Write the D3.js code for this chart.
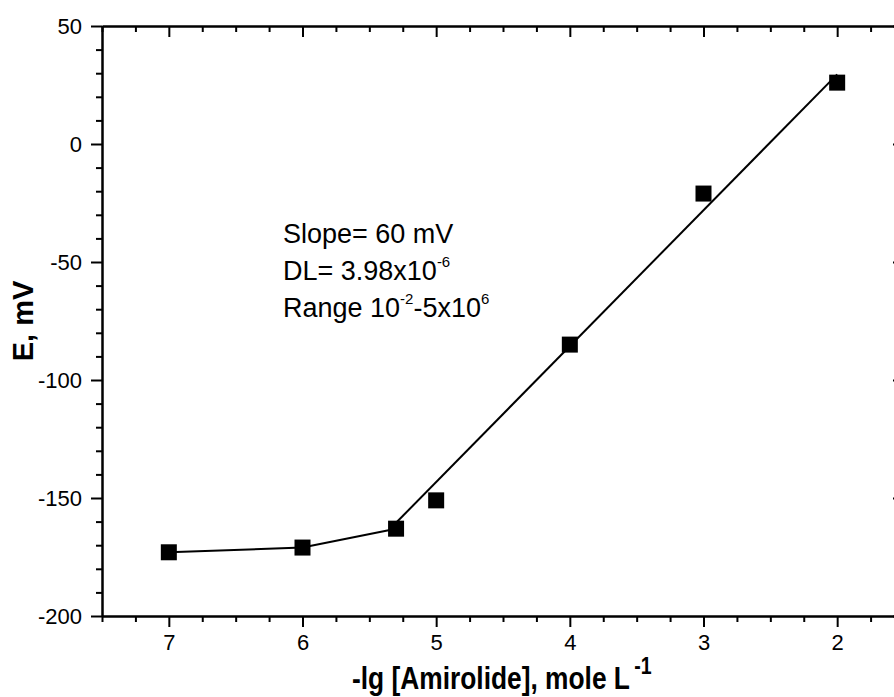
<!DOCTYPE html>
<html>
<head>
<meta charset="utf-8">
<script src="https://cdn.jsdelivr.net/npm/d3@7"></script>
<style>
  body { margin: 0; background: #fff; }
  svg { display: block; font-family: "Liberation Sans", Arial, sans-serif; }
  .axis path, .axis line { stroke: #000; stroke-width: 2; }
  .axis text { fill: #000; font-size: 22px; font-family: "Liberation Sans", Arial, sans-serif; }
</style>
</head>
<body>
<svg id="chart"></svg>
<script>
// measured points
const xVals = [7, 6, 5.3, 5, 4, 3, 2];
const yVals = [-173, -171, -163, -151, -85, -21, 26];
// the low-concentration points are joined point to point
const lowX = [7, 6, 5.3];
const lowY = [-173, -171, -163];
// linear fit over the working range
const fitX = [5.3, 2];
const fitY = [-160.5, 29.5];

const xTicks = [7, 6, 5, 4, 3, 2];
const yTicks = [50, 0, -50, -100, -150, -200];

const width = 894, height = 697;
const margin = { top: 26, right: -10, bottom: 81, left: 102 };

const svg = d3.select('#chart').attr('width', width).attr('height', height);

const x = d3.scaleLinear().domain([7.5, 1.5]).range([margin.left, width - margin.right]);
const y = d3.scaleLinear().domain([-200, 50]).range([height - margin.bottom, margin.top]);

const xMinor = d3.range(1.5, 7.51, 0.25).filter(v => !xTicks.includes(v));
const yMinor = d3.range(-200, 51, 10).filter(v => !yTicks.includes(v));

const bottom = height - margin.bottom;
const right = width - margin.right;

// plain hyphen for negatives, like the original
const fmt = d => String(d);

// bottom axis, ticks outward
svg.append('g').attr('class', 'axis')
    .attr('transform', `translate(0,${bottom})`)
    .call(d3.axisBottom(x).tickValues(xTicks).tickSize(11).tickSizeOuter(0).tickPadding(7).tickFormat(fmt));
svg.append('g').attr('class', 'axis')
    .attr('transform', `translate(0,${bottom})`)
    .call(d3.axisBottom(x).tickValues(xMinor).tickSize(6).tickSizeOuter(0).tickFormat(''));

// top axis, ticks inward
svg.append('g').attr('class', 'axis')
    .attr('transform', `translate(0,${margin.top})`)
    .call(d3.axisTop(x).tickValues(xTicks).tickSize(-11).tickSizeOuter(0).tickFormat(''));
svg.append('g').attr('class', 'axis')
    .attr('transform', `translate(0,${margin.top})`)
    .call(d3.axisTop(x).tickValues(xMinor).tickSize(-6).tickSizeOuter(0).tickFormat(''));

// left axis, ticks outward
svg.append('g').attr('class', 'axis')
    .attr('transform', `translate(${margin.left},0)`)
    .call(d3.axisLeft(y).tickValues(yTicks).tickSize(11).tickSizeOuter(0).tickPadding(9).tickFormat(fmt));
svg.append('g').attr('class', 'axis')
    .attr('transform', `translate(${margin.left},0)`)
    .call(d3.axisLeft(y).tickValues(yMinor).tickSize(6).tickSizeOuter(0).tickFormat(''));

// right axis, ticks inward
svg.append('g').attr('class', 'axis')
    .attr('transform', `translate(${right},0)`)
    .call(d3.axisRight(y).tickValues(yTicks).tickSize(-11).tickSizeOuter(0).tickFormat(''));
svg.append('g').attr('class', 'axis')
    .attr('transform', `translate(${right},0)`)
    .call(d3.axisRight(y).tickValues(yMinor).tickSize(-6).tickSizeOuter(0).tickFormat(''));

// lines
const line = d3.line().x(d => x(d[0])).y(d => y(d[1]));
svg.append('path')
    .datum(d3.zip(lowX, lowY))
    .attr('d', line)
    .attr('fill', 'none').attr('stroke', '#000').attr('stroke-width', 2);
svg.append('path')
    .datum(d3.zip(fitX, fitY))
    .attr('d', line)
    .attr('fill', 'none').attr('stroke', '#000').attr('stroke-width', 2);

// markers
const sq = 16;
svg.selectAll('rect.pt')
    .data(d3.zip(xVals, yVals))
    .enter().append('rect')
    .attr('class', 'pt')
    .attr('x', d => x(d[0]) - sq / 2)
    .attr('y', d => y(d[1]) - sq / 2)
    .attr('width', sq).attr('height', sq)
    .attr('fill', '#000');

// axis titles
svg.append('text')
    .attr('transform', `translate(33,${(margin.top + bottom) / 2}) rotate(-90)`)
    .attr('text-anchor', 'middle')
    .style('font-size', '29px').style('font-weight', 'bold')
    .text('E, mV');

// x title is a narrow bold face in the original, so squeeze it a bit
const xt = svg.append('text')
    .attr('transform', 'translate(352,689) scale(0.85,1)')
    .style('font-size', '31px').style('font-weight', 'bold');
xt.append('tspan')
    .text('-lg [Amirolide], mole L');
xt.append('tspan')
    .attr('dx', 5).attr('dy', -15).style('font-size', '23px')
    .text('-1');

// annotation
const note = svg.append('g').style('font-size', '27px');
note.append('text').attr('x', 283).attr('y', 243).text('Slope= 60 mV');
const dl = note.append('text').attr('x', 283).attr('y', 280);
dl.append('tspan').text('DL= 3.98x10');
dl.append('tspan').attr('dy', -13).style('font-size', '15px').text('-6');
const rg = note.append('text').attr('x', 283).attr('y', 317);
rg.append('tspan').text('Range 10');
rg.append('tspan').attr('dy', -13).style('font-size', '15px').text('-2');
rg.append('tspan').attr('dy', 13).text('-5x10');
rg.append('tspan').attr('dy', -13).style('font-size', '15px').text('6');
</script>
</body>
</html>
